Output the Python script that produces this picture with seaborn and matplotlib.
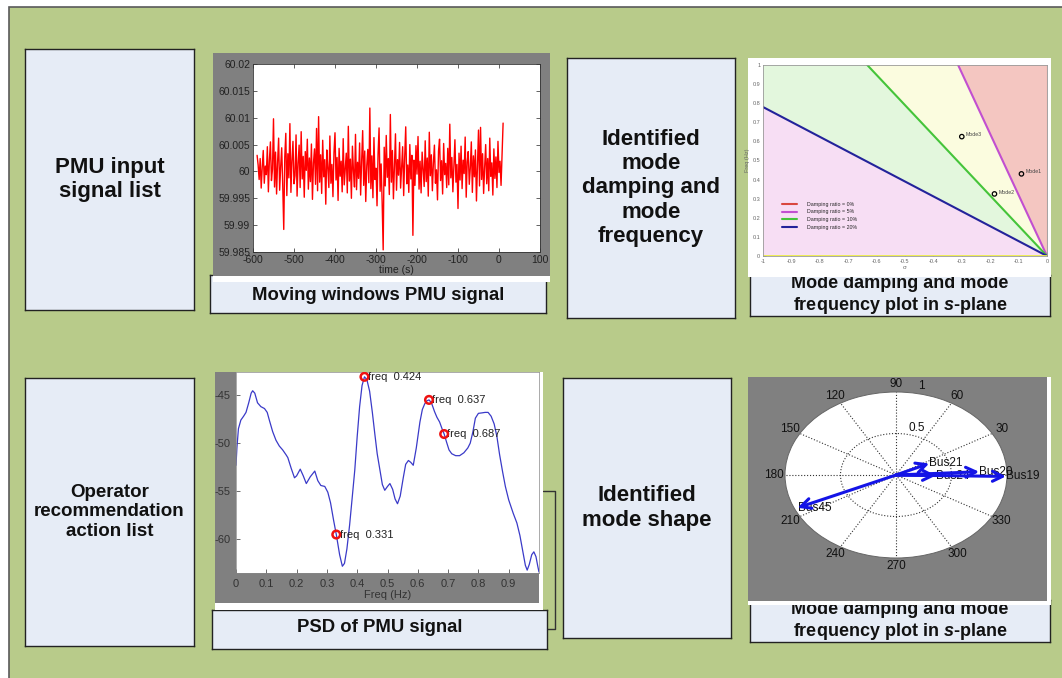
import numpy as np
import pandas as pd
import matplotlib
matplotlib.use("Agg")
import matplotlib.pyplot as plt
import seaborn as sns
from matplotlib.patches import Rectangle

sns.set_theme(style="ticks")
plt.rcParams['font.family'] = ['Liberation Sans', 'DejaVu Sans']
plt.rcParams['mathtext.fontset'] = 'custom'
plt.rcParams['mathtext.it'] = 'Liberation Sans:italic:bold'
plt.rcParams['mathtext.rm'] = 'Liberation Sans:bold'

# ---------------- data ----------------
# Moving-window PMU frequency signal: deviation from 60 Hz in mHz
signal_dev_mhz = [
    3.0, 1.2, -1.5, 2.4, -3.1, 0.8, 3.9, -2.2, 1.0, -0.6,
    4.6, -3.8, 2.1, 5.5, -1.7, 0.4, 9.8, -2.9, 3.6, -4.2,
    1.8, 6.2, -3.5, 0.9, 4.4, -2.6, -10.8, 2.7, 7.1, -4.5,
    3.3, -1.2, 8.9, -3.9, 2.0, 5.6, -2.3, -0.8, 6.8, -4.6,
    1.5, 4.9, -3.0, 7.4, -1.4, 2.8, -4.8, 3.7, 0.2, 6.0,
    -3.3, 2.5, -1.9, 5.1, -5.2, 1.6, 4.2, -2.4, 8.0, -3.6,
    10.2, -2.0, 3.1, -4.1, 5.8, -1.0, 2.2, -6.1, 4.0, 0.7,
    -3.0, 6.6, -2.2, 1.3, -4.7, 3.5, 7.2, -1.6, 2.6, -5.4,
    4.3, -0.9, 1.9, -3.8, 6.1, -2.5, 0.5, 3.4, -4.0, 8.4,
    -1.8, 2.3, -5.0, 4.7, 0.1, -2.9, 6.9, -3.4, 1.7, -1.3,
    5.3, -4.4, 2.0, 7.6, -2.6, 3.8, -5.6, 1.1, 4.1, -2.1,
    11.8, -3.2, 2.9, -4.9, 6.3, -1.5, 0.6, -6.4, 3.2, 8.1,
    -3.7, 1.4, -5.8, -14.6, 4.5, -2.7, 6.7, -1.1, 2.4, -4.3,
    10.6, -2.0, 3.9, -5.1, 1.0, 7.0, -3.5, 2.2, -0.7, 5.4,
    -3.1, 0.8, 4.6, -4.5, 2.7, 8.3, -2.3, 1.2, -3.9, 5.0,
    -1.4, 3.0, -11.9, 2.1, -2.6, 4.8, -0.5, 6.5, -3.3, 1.9,
    -4.0, 3.6, 0.4, -2.8, 5.7, -1.9, 2.5, -4.6, 7.3, -0.8,
    3.1, -3.6, 1.6, 4.9, -2.2, 0.3, -5.3, 3.8, 6.0, -1.7,
    2.0, -4.2, 5.2, -0.6, 1.5, -3.0, 4.3, -2.5, 8.8, -1.2,
    2.6, -3.8, 0.9, 5.9, -2.0, 1.3, -6.9, 3.4, -1.6, 4.7,
    -3.2, 2.1, -0.4, 6.4, -4.8, 1.8, 3.7, -2.4, 0.6, 5.5,
    -3.9, 2.9, -1.0, 4.0, -5.5, 1.1, 7.7, -2.7, 8.2, -1.5,
    3.3, -4.1, 0.8, 5.0, -2.3, 2.4, -3.6, 6.2, -0.9, 1.6,
    -4.4, 4.2, -1.3, 2.7, -3.0, 5.6, -0.2, 1.9, -2.6, 3.5,
    9.0,
]
signal_t_start, signal_t_end = -590.0, 10.0
signal_xticks = [-600, -500, -400, -300, -200, -100, 0, 100]
signal_yticks = [59.985, 59.99, 59.995, 60.0, 60.005, 60.01, 60.015, 60.02]
signal_yticklabels = ['59.985', '59.99', '59.995', '60', '60.005', '60.01', '60.015', '60.02']

# s-plane damping lines: end point where each line leaves the plot (starts at origin)
damp_labels = ['Damping ratio = 0%', 'Damping ratio = 5%', 'Damping ratio = 10%', 'Damping ratio = 20%']
damp_end_sigma = [0.0, -0.313, -0.633, -1.0]
damp_end_freq = [1.0, 1.0, 1.0, 0.78]
mode_names = ['Mode1', 'Mode2', 'Mode3']
mode_sigma = [-0.09, -0.185, -0.30]
mode_freq = [0.43, 0.325, 0.625]
splane_xticks = [-1, -0.9, -0.8, -0.7, -0.6, -0.5, -0.4, -0.3, -0.2, -0.1, 0]
splane_xticklabels = ['-1', '-0.9', '-0.8', '-0.7', '-0.6', '-0.5', '-0.4', '-0.3', '-0.2', '-0.1', '0']
splane_yticks = [0, 0.1, 0.2, 0.3, 0.4, 0.5, 0.6, 0.7, 0.8, 0.9, 1]
splane_yticklabels = ['0', '0.1', '0.2', '0.3', '0.4', '0.5', '0.6', '0.7', '0.8', '0.9', '1']

# PSD of PMU signal (dB)
psd_freq = [0.000, 0.003, 0.008, 0.016, 0.025, 0.033, 0.042, 0.050, 0.055, 0.062,
            0.071, 0.082, 0.094, 0.103, 0.110, 0.121, 0.132, 0.143, 0.154, 0.165,
            0.171, 0.182, 0.193, 0.200, 0.212, 0.222, 0.232, 0.245, 0.260, 0.270,
            0.280, 0.293, 0.303, 0.312, 0.322, 0.331, 0.342, 0.351, 0.358, 0.366,
            0.375, 0.384, 0.392, 0.400, 0.408, 0.416, 0.424, 0.432, 0.441, 0.450,
            0.458, 0.466, 0.474, 0.483, 0.491, 0.500, 0.508, 0.517, 0.525, 0.533,
            0.542, 0.552, 0.560, 0.569, 0.577, 0.585, 0.595, 0.607, 0.615, 0.623,
            0.630, 0.637, 0.645, 0.655, 0.663, 0.672, 0.680, 0.687, 0.695, 0.703,
            0.712, 0.725, 0.738, 0.752, 0.765, 0.773, 0.782, 0.790, 0.800, 0.812,
            0.822, 0.832, 0.842, 0.852, 0.861, 0.870, 0.880, 0.889, 0.900, 0.915,
            0.927, 0.937, 0.948, 0.955, 0.961, 0.968, 0.976, 0.983, 0.990, 0.996,
            1.000]
psd_db = [-52.3, -50.5, -48.5, -47.6, -47.2, -46.8, -45.8, -44.8, -44.55, -44.8,
          -45.8, -46.2, -46.4, -46.8, -47.6, -48.8, -49.7, -50.3, -50.7, -51.2,
          -51.5, -52.6, -53.6, -53.4, -52.7, -53.4, -54.2, -53.5, -52.9, -53.9,
          -54.4, -54.5, -55.1, -56.2, -58.0, -59.5, -61.6, -62.8, -62.5, -61.0,
          -58.5, -55.5, -52.8, -49.3, -46.2, -44.0, -43.1, -43.4, -44.6, -46.8,
          -49.0, -51.1, -52.6, -54.3, -54.9, -54.5, -54.2, -54.8, -55.8, -56.3,
          -55.5, -53.6, -52.2, -51.8, -52.0, -52.3, -50.5, -47.8, -46.5, -45.9,
          -45.6, -45.5, -45.8, -46.7, -47.3, -47.8, -48.5, -49.05, -49.9, -50.7,
          -51.1, -51.3, -51.3, -51.0, -50.5, -50.0, -48.8, -47.4, -46.9, -46.85,
          -46.8, -46.8, -47.2, -48.0, -49.3, -51.2, -53.0, -54.5, -55.9, -57.3,
          -58.3, -59.6, -61.5, -62.7, -63.2, -62.6, -61.6, -61.3, -61.8, -62.8,
          -63.4]
peak_freq = [0.331, 0.424, 0.637, 0.687]
peak_db = [-59.5, -43.1, -45.5, -49.05]
psd_xticks = [0, 0.1, 0.2, 0.3, 0.4, 0.5, 0.6, 0.7, 0.8, 0.9]
psd_xticklabels = ['0', '0.1', '0.2', '0.3', '0.4', '0.5', '0.6', '0.7', '0.8', '0.9']
psd_yticks = [-60, -55, -50, -45]

# Mode shape (compass plot)
bus_names = ['Bus19', 'Bus20', 'Bus21', 'Bus24', 'Bus45']
bus_mag = [0.99, 0.75, 0.33, 0.36, 0.97]
bus_angle_deg = [-1, 3, 25, -1, 204]
polar_angle_labels = [30, 60, 90, 120, 150, 180, 210, 240, 270, 300, 330]

# Box texts
box_texts = {
    'pmu': 'PMU input\nsignal list',
    'ident': 'Identified\nmode\ndamping and\nmode\nfrequency',
    'oper': 'Operator\nrecommendation\naction list',
    'shape': 'Identified\nmode shape',
}
cap_signal = 'Moving windows PMU signal'
cap_splane = 'Mode damping and mode\nfrequency plot in $s$-plane'
cap_psd = 'PSD of PMU signal'

# ---------------- layout ----------------
W, H = 1062, 678
GREEN = '#B8CB8A'
BOXC = '#E6ECF6'
GRAY = '#808080'

fig = plt.figure(figsize=(W / 100, H / 100), dpi=100)
fig.patch.set_facecolor('white')


def rect(x0, y0, x1, y1):
    return [x0 / W, 1 - y1 / H, (x1 - x0) / W, (y1 - y0) / H]


bg = fig.add_axes([0, 0, 1, 1], zorder=-5)
bg.set_xlim(0, W)
bg.set_ylim(H, 0)
bg.axis('off')
bg.add_patch(Rectangle((9, 7), W, H, facecolor=GREEN, edgecolor='#5a5a5a', lw=1.2))
bg.plot([543, 555, 555, 547], [491, 491, 629, 629], color='#333333', lw=1)


def box(px, text, fs, ls=1.2, z=1, ty=0.5):
    a = fig.add_axes(rect(*px), zorder=z)
    a.set_facecolor(BOXC)
    a.set_xticks([])
    a.set_yticks([])
    for s in a.spines.values():
        s.set_color('#222222')
        s.set_linewidth(1.0)
    a.text(0.5, ty, text, ha='center', va='center', fontsize=fs, fontweight='bold',
           linespacing=ls, color='#111111', transform=a.transAxes)
    return a


def panel(px, color, z=2):
    a = fig.add_axes(rect(*px), zorder=z)
    a.set_facecolor(color)
    a.set_xticks([])
    a.set_yticks([])
    for s in a.spines.values():
        s.set_visible(False)
    return a


# text boxes
box((25, 49, 194, 310), box_texts['pmu'], 16, 1.17)
box((567, 58, 735, 318), box_texts['ident'], 16, 1.2)
box((25, 378, 194, 646), box_texts['oper'], 13.5, 1.18)
box((563, 378, 731, 638), box_texts['shape'], 16, 1.2)

# captions
box((210, 275, 546, 313), cap_signal, 13.3, ty=0.47)
box((750, 275, 1050, 316), cap_splane, 13, 1.25)
box((212, 610, 547, 649), cap_psd, 13.3, ty=0.55)
box((750, 600, 1050, 642), cap_splane, 13, 1.2)

# ---------------- signal panel ----------------
panel((213, 53, 550, 277), GRAY)
ax1 = fig.add_axes(rect(253, 64, 540, 252), zorder=3)
ax1.set_facecolor('white')
sig_t = np.linspace(signal_t_start, signal_t_end, len(signal_dev_mhz))
df_sig = pd.DataFrame({'t': sig_t, 'f': 60.0 + np.array(signal_dev_mhz) / 1000.0})
sns.lineplot(data=df_sig, x='t', y='f', color='#FF0000', lw=1.0, ax=ax1)
ax1.set_xlim(-600, 100)
ax1.set_ylim(59.985, 60.02)
ax1.set_xticks(signal_xticks)
ax1.set_xticklabels([str(v) for v in signal_xticks])
ax1.set_yticks(signal_yticks)
ax1.set_yticklabels(signal_yticklabels)
ax1.tick_params(labelsize=7.5, direction='in', length=3, top=True, right=True,
                bottom=True, left=True, colors='#222222', pad=2, width=0.5)
ax1.set_xlabel('time (s)', fontsize=7.5, labelpad=0, color='#222222')
ax1.set_ylabel('')
for s in ax1.spines.values():
    s.set_color('#333333')
    s.set_linewidth(0.6)
panel((213, 276, 550, 282), 'white', 4)

# ---------------- s-plane panel ----------------
panel((748, 58, 1051, 277), 'white')
ax2 = fig.add_axes(rect(763, 65, 1047, 256), zorder=3)
x5, x10 = damp_end_sigma[1], damp_end_sigma[2]
y20 = damp_end_freq[3]
ax2.fill([0, -1, -1], [0, 0, y20], color='#F7DEF4', lw=0)
ax2.fill([0, -1, -1, x10], [0, y20, 1, 1], color='#E3F7DD', lw=0)
ax2.fill([0, x10, x5], [0, 1, 1], color='#FBFCDF', lw=0)
ax2.fill([0, x5, 0], [0, 1, 1], color='#F4C6C1', lw=0)
damp_colors = ['#D9473F', '#C24FD0', '#45C43A', '#23239A']
for lab, ex, ey, c in zip(damp_labels, damp_end_sigma, damp_end_freq, damp_colors):
    sns.lineplot(x=[0, ex], y=[0, ey], color=c, lw=1.5, ax=ax2, label=lab)
ax2.axhline(0, color='#EEEE44', lw=2)
ax2.scatter(mode_sigma, mode_freq, s=10, facecolors='none', edgecolors='black', linewidths=0.9, zorder=5)
for n, sx, fy in zip(mode_names, mode_sigma, mode_freq):
    ax2.text(sx + 0.015, fy + 0.01, n, fontsize=3.8, color='#444444', va='center')
ax2.set_xlim(-1, 0)
ax2.set_ylim(0, 1)
ax2.set_xticks(splane_xticks)
ax2.set_xticklabels(splane_xticklabels)
ax2.set_yticks(splane_yticks)
ax2.set_yticklabels(splane_yticklabels)
ax2.tick_params(labelsize=4, direction='in', length=2, colors='#666666', pad=2, width=0.4,
                bottom=True, left=True)
ax2.set_xlabel('σ', fontsize=4.5, labelpad=1, color='#666666')
ax2.set_ylabel('Freq (Hz)', fontsize=4, labelpad=2, color='#666666')
for s in ax2.spines.values():
    s.set_color('#999999')
    s.set_linewidth(0.6)
ax2.legend(loc='lower left', bbox_to_anchor=(0.05, 0.11), fontsize=3.8, frameon=False,
           handlelength=2.8, labelspacing=0.55, handletextpad=2.0)

# ---------------- PSD panel ----------------
panel((215, 372, 539, 603), GRAY)
panel((539, 372, 543, 610), 'white')
panel((215, 603, 543, 610), 'white')
ax3 = fig.add_axes(rect(236, 372, 539, 573), zorder=3)
ax3.set_facecolor('white')
sns.lineplot(x=psd_freq, y=psd_db, color='#3A3AC8', lw=0.9, ax=ax3)
ax3.scatter(peak_freq, peak_db, s=30, facecolors='none', edgecolors='#EE1111', linewidths=1.8, zorder=5)
for f, p in zip(peak_freq, peak_db):
    ax3.text(f + 0.011, p, f'freq  {f:.3f}', fontsize=8, va='center', color='#222222', clip_on=False)
ax3.set_xlim(0, 1.0)
ax3.set_ylim(-63.5, -42.6)
ax3.set_xticks(psd_xticks)
ax3.set_xticklabels(psd_xticklabels)
ax3.set_yticks(psd_yticks)
ax3.set_yticklabels([str(v) for v in psd_yticks])
ax3.tick_params(labelsize=8, direction='in', length=3, colors='#333333', pad=4, width=0.5,
                bottom=True, left=True)
ax3.set_xlabel('Freq (Hz)', fontsize=8, labelpad=1, color='#333333')
for s in ax3.spines.values():
    s.set_color('#888888')
    s.set_linewidth(0.5)

# ---------------- polar (mode shape) panel ----------------
panel((748, 377, 1047, 601), GRAY)
panel((1047, 377, 1051, 605), 'white')
panel((748, 601, 1051, 605), 'white')
ax4 = fig.add_axes(rect(785, 392, 1007, 558), projection='polar', zorder=3)
ax4.set_aspect('auto')
ax4.set_facecolor('white')
ax4.set_ylim(0, 1)
ax4.set_rticks([0.5])
ax4.set_yticklabels([])
ax4.set_xticks(np.deg2rad(np.arange(0, 360, 30)))
ax4.set_xticklabels([])
ax4.grid(True, color='#333333', ls=':', lw=0.8)
ax4.spines['polar'].set_color('#666666')
ax4.spines['polar'].set_linewidth(0.7)
for a in polar_angle_labels:
    ax4.text(np.deg2rad(a), 1.1, str(a), ha='center', va='center', fontsize=8.5, color='#111111')
ax4.text(np.deg2rad(78), 1.1, '1', ha='center', va='center', fontsize=8.5, color='#111111')
ax4.text(np.deg2rad(72), 0.6, '0.5', ha='center', va='center', fontsize=8.5, color='#111111')
for n, m, a in zip(bus_names, bus_mag, bus_angle_deg):
    th = np.deg2rad(a)
    ax4.text(th, m, n, ha='left', va='center', fontsize=8.5, color='#111111', zorder=4)
    ax4.annotate('', xy=(th, m), xytext=(0, 0), xycoords='data', textcoords='data',
                 arrowprops=dict(arrowstyle='->,head_length=0.6,head_width=0.3', color='#1414E6',
                                 lw=2.2, shrinkA=0, shrinkB=0, mutation_scale=12), zorder=5)

fig.savefig('out.png', dpi=100, facecolor=fig.get_facecolor())
